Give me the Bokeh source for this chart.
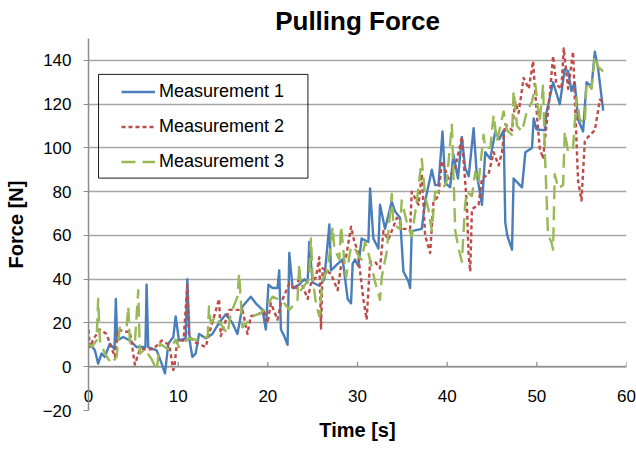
from bokeh.plotting import figure
from bokeh.models import FixedTicker, Legend, LegendItem, BoxAnnotation
from bokeh.embed import file_html
from bokeh.resources import INLINE

# ---------------- data ----------------
x_ticks = [0, 10, 20, 30, 40, 50, 60]
y_ticks = [-20, 0, 20, 40, 60, 80, 100, 120, 140]
series_names = ["Measurement 1", "Measurement 2", "Measurement 3"]

t1 = [0, 0.15, 0.71, 1.08, 1.45, 1.82, 2.38, 2.9, 3.05, 3.2, 3.87, 4.62, 5.36, 5.92, 6.35, 6.48, 6.66,
      7.6, 8.16, 8.53, 8.9, 9.46, 9.72, 10.09, 10.84, 11.02, 11.28, 11.58, 11.95, 12.33, 13.07, 13.82,
      14.56, 15.31, 16.05, 16.61, 17.17, 18.1, 18.66, 19.4, 19.78, 20.07, 20.52, 21.08, 21.27, 21.46,
      21.83, 22.2, 22.39, 22.76, 23.5, 24.06, 24.44, 24.62, 25.0, 25.74, 26.3, 26.86, 27.04, 27.79,
      28.35, 28.9, 29.28, 29.46, 29.72, 30.09, 30.46, 31.21, 31.4, 31.77, 32.33, 32.51, 33.07, 33.82,
      34.19, 34.75, 35.12, 35.68, 35.87, 36.05, 37.17, 37.54, 38.29, 38.66, 39.03, 39.48, 39.78, 40.33,
      40.7, 41.2, 41.64, 42.0, 42.4, 42.95, 43.3, 43.88, 44.25, 44.8, 45.37, 45.8, 46.3, 46.48, 46.7,
      47.23, 47.41, 48.35, 48.72, 49.46, 49.65, 49.95, 50.88, 51.07, 51.81, 52.56, 53.11, 53.49, 53.86,
      54.23, 54.6, 55.16, 55.54, 56.1, 56.47, 56.84, 57.4]
m1 = [9, 10.5, 7.5, 1.4, 6, 4.5, 10.5, 8, 31, 12, 13.6, 12, 9, 9, 9, 37.5, 9,
      7.5, 1.4, -3, 10.5, 13.6, 23, 12, 13, 40, 12, 4.5, 6, 15, 13, 15,
      20, 24, 20, 15, 27.5, 32, 29, 26, 17, 37.5, 36, 36, 44, 17,
      14, 10, 52, 36, 37.5, 40, 38.5, 57, 38.5, 37, 40, 65, 44, 47,
      49, 31, 29, 47, 49, 46, 58.6, 57, 81.5, 58.6, 54, 74, 63, 75.5,
      71, 68, 43.5, 39, 36, 62, 63, 75.5, 90, 83, 83, 107.5, 84, 82,
      97, 86, 105, 91, 87, 109, 88, 74, 98, 95, 107.5, 104, 108, 66, 60,
      53.5, 86, 82, 98, 100, 113.5, 108.5, 108, 116, 130, 120, 136, 135, 126,
      130, 113, 107.5, 130, 128, 144, 136, 117]

t2 = [0, 0.15, 0.6, 1.27, 2.0, 2.94, 3.31, 4.0, 4.62, 5.17, 5.73, 7.22, 8.16, 9.0, 9.46, 9.6, 9.9,
      10.6, 11.02, 11.2, 11.95, 13.07, 13.45, 14.56, 14.75, 15.68, 17.17, 17.73, 18.1, 19.59, 19.97,
      20.34, 21.08, 21.46, 22.39, 23.13, 23.5, 24.44, 24.81, 25.37, 25.74, 25.93, 26.11, 27.04, 27.79,
      28.16, 28.72, 29.28, 29.65, 30.0, 30.65, 31.02, 31.4, 31.95, 32.51, 32.89, 33.44, 34.38, 35.12,
      35.87, 36.05, 36.8, 37.17, 37.54, 38.1, 38.47, 39.03, 39.4, 40.15, 40.9, 41.64, 42.2, 42.39,
      42.57, 42.76, 43.5, 43.88, 44.62, 45.18, 45.74, 46.11, 46.48, 47.23, 47.6, 47.97, 48.53, 49.1,
      49.58, 49.95, 50.32, 50.7, 50.88, 51.44, 51.81, 52.18, 52.74, 53.0, 53.49, 54.04, 54.23, 54.6,
      54.98, 55.35, 55.91, 56.47, 57.03, 57.4]
m2 = [17, 9, 13, 17, 15, 4.5, 17, 16, 16, 1, 8, 8, 12, 10, -1.5, 1, 12,
      12, 37.5, 14, 11, 9, 15, 31, 14, 26, 26, 15, 23, 25, 20,
      29, 21.5, 29, 38, 35, 41, 31, 38, 41, 50, 17.5, 45, 42.5, 35,
      46, 50, 64, 57, 53.5, 31, 21.5, 48, 48, 45, 62, 58, 68, 63,
      63, 80, 74, 88, 60, 52, 75.5, 78, 94, 86, 91, 105, 74, 51,
      43.5, 72, 74, 86, 88, 98, 92, 98, 110.8, 108, 121, 116, 132, 127,
      139.6, 118, 100, 95, 103, 124, 142, 129, 127, 145.5, 127, 144, 123, 85,
      76, 103, 106, 108, 122, 121]

t3 = [0, 0.34, 0.9, 1.08, 1.27, 1.82, 2.57, 3.13, 3.5, 4.25, 4.43, 4.62, 5.17, 5.55, 5.73, 6.29,
      7.03, 7.6, 7.97, 8.9, 9.27, 9.72, 10.09, 11.21, 12.33, 13.3, 13.44, 13.63, 14.19, 15.49, 15.86,
      16.61, 16.8, 17.17, 18.29, 19.22, 19.78, 20.52, 21.64, 22.39, 23.3, 23.5, 23.69, 24.6, 24.81,
      25.0, 25.37, 25.74, 26.11, 26.67, 27.23, 27.41, 27.97, 28.16, 28.72, 29.28, 29.72, 30.2, 30.46,
      30.84, 31.21, 31.95, 32.51, 32.7, 33.26, 33.82, 34.0, 34.75, 34.93, 35.49, 36.05, 36.61, 37.17,
      37.54, 37.91, 38.29, 38.66, 39.4, 39.96, 40.52, 40.71, 40.9, 41.27, 41.64, 42.0, 42.2, 42.76,
      43.13, 43.5, 44.06, 44.25, 44.81, 45.18, 45.55, 46.3, 46.67, 47.23, 47.41, 47.79, 48.35, 48.9,
      49.46, 49.84, 50.1, 50.32, 50.7, 50.88, 51.07, 51.25, 51.63, 51.81, 52.0, 52.37, 52.93, 53.11,
      53.49, 54.04, 54.42, 54.79, 55.35, 55.54, 56.1, 56.47, 56.84, 57.4]
m3 = [10.5, 9, 12, 31, 12, 6, 1.4, 4.5, 18, 18, 27.5, 11, 11, 35, 6, 8,
      3.5, -1.5, 10.5, 8, 9, 12.4, 9, 13, 12, 14, 27.5, 20, 23, 15, 24,
      32, 42.5, 18, 23, 24.5, 27, 32, 30, 26, 30, 47, 35, 40, 58.6,
      40, 29, 23, 40, 44, 64, 54, 49, 64, 41, 55, 54, 50, 49,
      57, 52, 39, 30.6, 41, 52.6, 79, 65, 63, 76, 66, 59.5, 75.5, 95,
      78, 72, 62, 80, 80, 85, 110.6, 87, 62, 54, 48, 74, 80, 78,
      89, 84, 106, 100, 100, 115, 103, 116.7, 108, 106, 126, 110, 107.5, 117,
      121, 129, 119, 112, 129, 100, 79, 60, 57, 53.5, 88, 81.5, 83, 107.5,
      98, 100, 123, 113, 111, 130, 127, 142, 137, 135]

colors = ["#4A7EBB", "#BE4B48", "#98B954"]
dashes = ["solid", "4 3", "14 7"]

FONT = "Liberation Sans"
AXIS_GRAY = "#8C8C8C"
X_START, X_END = 0, 60
Y_START, Y_END = -20, 150

W, H = 636, 449
B_LEFT, B_RIGHT, B_TOP, B_BOTTOM = 88, 10, 37, 39

p = figure(width=W, height=H, x_range=(X_START, X_END), y_range=(Y_START, Y_END),
           output_backend="svg", toolbar_location=None,
           min_border_left=B_LEFT, min_border_right=B_RIGHT,
           min_border_bottom=B_BOTTOM, min_border_top=B_TOP,
           title="Pulling Force")

p.title.text_font = FONT
p.title.text_font_size = "26px"
p.title.text_font_style = "bold"
p.title.text_color = "black"
p.title.align = "center"
p.title.standoff = 6

p.outline_line_color = None
p.background_fill_color = "white"
p.border_fill_color = "white"

# grid
p.xgrid.visible = False
p.ygrid.ticker = FixedTicker(ticks=y_ticks)
p.ygrid.grid_line_color = "#A6A6A6"
p.ygrid.grid_line_width = 1.5

# x axis: Excel "low" labels sitting just above the bottom gridline
xa = p.xaxis[0]
xa.ticker = FixedTicker(ticks=x_ticks)
xa.axis_line_color = None
xa.major_tick_line_color = None
xa.minor_tick_line_color = None
xa.major_tick_in = 0
xa.major_tick_out = 0
xa.major_label_text_font = FONT
xa.major_label_text_font_size = "17px"
xa.major_label_text_color = "black"
xa.major_label_standoff = -21
xa.axis_label = "Time [s]"
xa.axis_label_text_font = FONT
xa.axis_label_text_font_size = "20px"
xa.axis_label_text_font_style = "bold"
xa.axis_label_text_color = "black"
xa.axis_label_standoff = 14

ya = p.yaxis[0]
ya.ticker = FixedTicker(ticks=y_ticks)
ya.axis_line_color = AXIS_GRAY
ya.axis_line_width = 1.5
ya.major_tick_in = 0
ya.major_tick_out = 5
ya.major_tick_line_color = AXIS_GRAY
ya.minor_tick_line_color = None
ya.major_label_text_font = FONT
ya.major_label_text_font_size = "17px"
ya.major_label_text_color = "black"
ya.major_label_standoff = 12
ya.axis_label = "Force [N]"
ya.axis_label_text_font = FONT
ya.axis_label_text_font_size = "20px"
ya.axis_label_text_font_style = "bold"
ya.axis_label_text_color = "black"
ya.axis_label_standoff = 13

# horizontal axis line at y = 0 with small upward tick marks
frame_h_px = H - B_TOP - B_BOTTOM
px_per_unit = frame_h_px / (Y_END - Y_START)
tick_len = 5 / px_per_unit
p.segment(x0=[x_ticks[0]], y0=[0], x1=[x_ticks[-1]], y1=[0], line_color=AXIS_GRAY, line_width=1.5)
p.segment(x0=x_ticks, y0=[0] * len(x_ticks), x1=x_ticks, y1=[tick_len] * len(x_ticks),
          line_color=AXIS_GRAY, line_width=1.2)

# series (series 1 drawn first, series 3 on top)
renderers = []
for tt, mm, c, d in zip([t1, t2, t3], [m1, m2, m3], colors, dashes):
    r = p.line(tt, mm, line_color=c, line_width=2.4, line_dash=d, line_join="round")
    renderers.append(r)

# legend frame
frame = BoxAnnotation(left=1.12, right=24.47, top=133.6, bottom=86.2,
                      fill_alpha=0, line_color="black", line_width=1, line_alpha=0.9)
p.add_layout(frame)

legend = Legend(items=[LegendItem(label=n, renderers=[r]) for n, r in zip(series_names, renderers)],
                location=(26, 231), orientation="vertical",
                border_line_alpha=0, background_fill_alpha=0,
                padding=7, spacing=14, glyph_width=34, glyph_height=21, label_height=21,
                label_standoff=4, margin=0,
                label_text_font=FONT, label_text_font_size="18px", label_text_color="black")
p.add_layout(legend)

open("out.html", "w").write(file_html(p, INLINE))
